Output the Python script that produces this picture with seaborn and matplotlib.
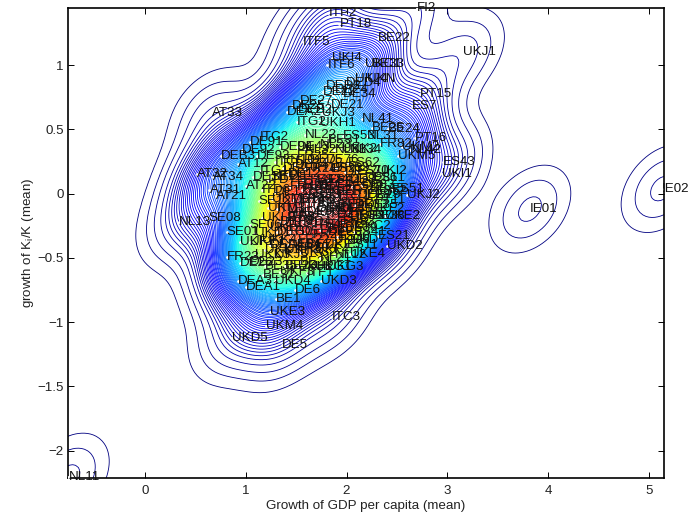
import matplotlib
matplotlib.use('Agg')
import matplotlib.pyplot as plt
import numpy as np
import pandas as pd
import seaborn as sns

regions = ['ITP2', 'FI2', 'PT18', 'BE22', 'ITF5', 'UKJ1', 'UKI4', 'ITF6', 'UKC1', 'BE33',
           'DED2', 'DED4', 'UKJ4', 'UKN', 'PT15', 'ES7', 'AT33', 'DE22', 'DE24', 'DE34',
           'DE27', 'DE21', 'DEA2', 'DE25', 'DEB2', 'UKJ3', 'ITG2', 'UKH1', 'NL41', 'BE24',
           'BE25', 'NL31', 'ES53', 'PT16', 'FR82', 'ITC2', 'DE91', 'DE92', 'DE94', 'DE43',
           'BE31', 'UKK2', 'UKM2', 'NL42', 'UKM5', 'DEB3', 'DE93', 'FR25', 'ES43', 'AT12',
           'ES62', 'UKI1', 'DEC0', 'FI19', 'FR62', 'ES61', 'UKI2', 'AT32', 'AT34', 'AT31',
           'AT21', 'AT22', 'DE11', 'SE11', 'SE12', 'NL13', 'SE08', 'SE06', 'SE01', 'UKD1',
           'UKF1', 'UKE1', 'DEA4', 'ITD1', 'ITD3', 'FR30', 'ES51', 'UKJ2', 'ES52', 'PT11',
           'UKF2', 'UKE2', 'ES41', 'ES21', 'ES30', 'UKD2', 'ES11', 'UKE4', 'FR23', 'DE26',
           'DE23', 'UKH2', 'UKG1', 'UKG3', 'ITF1', 'BE32', 'UKF3', 'UKD4', 'DEA3', 'DEA1',
           'UKD3', 'DE6', 'BE1', 'UKE3', 'ITC3', 'UKM4', 'UKD5', 'DE5', 'NL11', 'IE01',
           'IE02', 'DE12', 'FR24', 'FR26', 'FR41', 'FR43', 'FR51', 'FR52', 'FR53', 'FR61',
           'DE13', 'DE14', 'FR63', 'FR71', 'FR72', 'ES22', 'ES23', 'ES24', 'ES42', 'ES12',
           'ITC1', 'ITC4', 'ITE1', 'ITE2', 'ITE3', 'ITE4', 'ITF2', 'ITF3', 'ITF4', 'ITD2',
           'ITD4', 'ITD5', 'FR21', 'FR22', 'DEB1', 'DE71', 'DE72', 'ES13', 'DE80', 'DEE0',
           'DEF0', 'DEG0', 'DE30', 'DE40', 'DE50', 'DE60', 'DE41', 'DE42', 'FR81', 'FR83',
           'FR10', 'DE74', 'DE75', 'DE76', 'DE77', 'ES70', 'DE81', 'DE82', 'DE83', 'DEA5',
           'DE28', 'DE29', 'DE33', 'DE35', 'DE36', 'DE37', 'DE38', 'DE39', 'UKC2', 'UKD6',
           'UKD7', 'UKE5', 'UKF4', 'UKG2', 'UKH3', 'UKJ5', 'UKK1', 'UKK3', 'UKK4', 'UKL1',
           'UKL2', 'UKM3', 'UKM6', 'ITD6', 'ITD7', 'ITD8', 'ITG1', 'ITC5', 'BE21', 'BE23',
           'BE35', 'NL12', 'NL21', 'NL22', 'NL23', 'NL32', 'NL33', 'NL34']

gdp = [1.82, 2.70, 1.93, 2.31, 1.57, 3.16, 1.86, 1.81, 2.18, 2.25,
       1.79, 1.99, 2.08, 2.20, 2.73, 2.65, 0.66, 1.77, 1.88, 1.96,
       1.54, 1.84, 1.41, 1.46, 1.52, 1.76, 1.51, 1.74, 2.15, 2.41,
       2.25, 2.20, 1.96, 2.68, 2.33, 1.14, 1.04, 0.96, 1.34, 1.51,
       1.81, 1.95, 2.55, 2.63, 2.51, 0.75, 1.11, 1.51, 2.96, 0.92,
       2.01, 2.95, 1.37, 1.71, 1.90, 2.26, 2.30, 0.52, 0.67, 0.64,
       0.70, 1.00, 1.07, 1.24, 1.13, 0.34, 0.63, 1.04, 0.81, 1.09,
       0.94, 1.04, 1.24, 1.31, 1.41, 1.51, 2.45, 2.60, 2.28, 2.28,
       2.23, 2.38, 2.07, 2.31, 1.91, 2.40, 2.00, 2.03, 0.81, 0.94,
       1.04, 1.52, 1.69, 1.81, 1.61, 1.17, 1.34, 1.29, 0.92, 1.00,
       1.75, 1.49, 1.30, 1.24, 1.85, 1.20, 0.86, 1.36, -0.76, 3.82,
       5.13, 1.42, 1.59, 1.51, 1.57, 1.44, 1.56, 1.74, 1.62, 1.66,
       1.29, 1.47, 1.54, 1.91, 1.98, 2.05, 1.84, 1.71, 1.81, 1.90,
       1.67, 1.77, 1.84, 1.61, 1.74, 1.90, 2.00, 1.42, 1.67, 1.79,
       1.57, 1.44, 1.67, 1.52, 1.42, 1.61, 1.84, 1.90, 1.74, 1.81,
       1.34, 1.31, 1.39, 1.49, 1.61, 1.71, 1.93, 1.82, 2.01, 1.96,
       1.37, 1.49, 1.64, 1.79, 1.98, 2.10, 2.18, 2.03, 2.15, 2.23,
       2.11, 2.21, 2.08, 2.18, 2.03, 2.13, 2.25, 1.98, 2.08, 1.88,
       2.03, 1.79, 1.69, 1.54, 1.39, 1.29, 1.19, 1.09, 1.16, 1.24,
       1.16, 1.22, 1.26, 1.16, 1.22, 1.32, 1.14, 1.29, 1.54, 1.39,
       1.19, 1.88, 1.74, 1.59, 1.74, 1.59, 1.88, 2.03]

capital = [1.41, 1.445, 1.32, 1.21, 1.18, 1.10, 1.06, 1.00, 1.01, 1.01,
           0.84, 0.86, 0.89, 0.89, 0.78, 0.68, 0.63, 0.79, 0.81, 0.78,
           0.72, 0.69, 0.64, 0.68, 0.65, 0.63, 0.56, 0.55, 0.58, 0.50,
           0.51, 0.45, 0.45, 0.43, 0.39, 0.44, 0.40, 0.34, 0.36, 0.36,
           0.42, 0.35, 0.36, 0.34, 0.29, 0.29, 0.29, 0.29, 0.25, 0.23,
           0.24, 0.15, 0.20, 0.20, 0.20, 0.12, 0.18, 0.15, 0.13, 0.03,
           -0.02, 0.06, 0.13, 0.13, -0.06, -0.22, -0.19, -0.24, -0.30, -0.31,
           -0.38, -0.38, -0.40, -0.12, -0.19, -0.42, 0.04, -0.01, 0.02, -0.05,
           -0.12, -0.17, -0.30, -0.33, -0.34, -0.41, -0.40, -0.47, -0.49, -0.54,
           -0.53, -0.57, -0.57, -0.57, -0.62, -0.63, -0.61, -0.68, -0.68, -0.73,
           -0.68, -0.75, -0.82, -0.92, -0.96, -1.03, -1.12, -1.18, -2.207, -0.12,
           0.04, 0.15, 0.19, 0.07, 0.11, 0.05, 0.03, 0.03, -0.01, -0.03,
           0.01, -0.05, -0.05, -0.02, 0.02, 0.05, 0.19, 0.11, 0.11, 0.09,
           0.05, 0.07, 0.01, -0.07, -0.07, -0.09, -0.07, -0.18, -0.24, -0.16,
           -0.22, -0.30, -0.32, -0.36, -0.40, -0.40, -0.24, -0.20, -0.28, -0.30,
           -0.22, -0.30, -0.23, -0.15, -0.14, -0.12, -0.12, -0.11, -0.15, -0.22,
           0.26, 0.22, 0.26, 0.26, 0.17, 0.18, 0.12, 0.11, 0.07, 0.04,
           -0.01, -0.01, -0.09, -0.09, -0.17, -0.17, -0.17, -0.27, -0.25, -0.36,
           -0.36, -0.40, -0.44, -0.46, -0.44, -0.48, -0.44, -0.48, -0.36, -0.27,
           -0.19, -0.11, -0.04, 0.03, 0.11, 0.14, 0.18, 0.25, -0.53, -0.56,
           -0.56, -0.48, -0.50, 0.46, 0.38, 0.34, 0.34, 0.34]

df = pd.DataFrame({'region': regions, 'gdp': gdp, 'capital': capital})

# sparse outer contours so the lone regions only get two rings
iso_levels = [0.008, 0.019, 0.033, 0.046, 0.056] + list(np.linspace(0.064, 1, 130))

sns.set_theme(style='ticks')
plt.rcParams['font.family'] = ['Liberation Sans', 'DejaVu Sans']
plt.rcParams['mathtext.fontset'] = 'custom'
plt.rcParams['mathtext.rm'] = 'Liberation Sans'

fig = plt.figure(figsize=(6.93, 5.21), dpi=100)
ax = fig.add_axes([68 / 693, 43 / 521, 596 / 693, 470 / 521])

sns.kdeplot(data=df, x='gdp', y='capital', levels=iso_levels, cmap=plt.get_cmap('jet'),
            linewidths=0.6, bw_adjust=1.0, cut=6, gridsize=300, ax=ax)
sns.scatterplot(data=df, x='gdp', y='capital', color='white', s=4, linewidth=0, ax=ax, zorder=3)

for row in df.itertuples():
    ax.text(row.gdp, row.capital, row.region, fontsize=9.6, color='#111111', va='center', ha='left', zorder=4)

ax.set_xlim(-0.764, 5.15)
ax.set_ylim(-2.214, 1.446)
ax.set_xticks([0, 1, 2, 3, 4, 5])
ax.set_yticks([-2, -1.5, -1, -0.5, 0, 0.5, 1])
ax.set_yticklabels(['\u22122', '\u22121.5', '\u22121', '\u22120.5', '0', '0.5', '1'])
ax.tick_params(direction='in', top=True, right=True, length=4.3, width=0.7, labelsize=9.6,
               color='black', labelcolor='#222222')
ax.tick_params(axis='x', pad=5)
ax.tick_params(axis='y', pad=3)
for s in ax.spines.values():
    s.set_visible(True)
    s.set_linewidth(1.2)
    s.set_color('black')
ax.set_xlabel('Growth of GDP per capita (mean)', fontsize=9.6, color='#222222', labelpad=2)
ax.set_ylabel(r'growth of K$_{\mathrm{i}}$/K (mean)', fontsize=9.6, color='#222222', labelpad=1)

fig.savefig('out.png', dpi=100)
